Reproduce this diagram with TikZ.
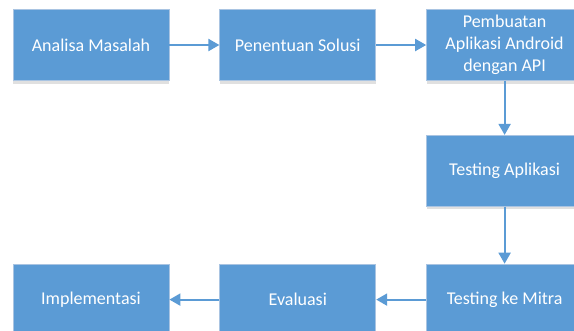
\documentclass[tikz,border=0pt]{standalone}
\usepackage{fontspec}
\setmainfont{Carlito}
\usetikzlibrary{positioning,arrows.meta,shadows}

\definecolor{stepblue}{HTML}{5B9BD5}
\definecolor{stepedge}{HTML}{A9C4E2}

\begin{document}
\begin{tikzpicture}[x=1pt,y=1pt,
node distance=50pt and 50pt,
stepbox/.style={draw=stepedge,line width=0.8pt,fill=stepblue,rectangle,
    minimum width=156pt,minimum height=71pt,text=white,align=center,
    font=\fontsize{18}{22}\selectfont,inner sep=0pt,
    drop shadow={shadow xshift=0pt,shadow yshift=-3pt,opacity=0.12,fill=black}},
flow/.style={draw=stepblue,line width=2pt,-{Triangle[length=11pt,width=12pt]}}]
\useasboundingbox (0,0) rectangle (574,-330);
\node (analisa) [stepbox] at (91,-45) {Analisa Masalah};
\node (solusi) [stepbox,right=50pt of analisa] {Penentuan Solusi};
\node (pembuatan) [stepbox,right=50pt of solusi] {Pembuatan\\Aplikasi Android\\dengan API};
\node (testing) [stepbox,below=54pt of pembuatan] {Testing Aplikasi};
\node (mitra) [stepbox,below=57pt of testing] {Testing ke Mitra};
\node (evaluasi) [stepbox,left=50pt of mitra] {Evaluasi};
\node (implementasi) [stepbox,left=50pt of evaluasi] {Implementasi};
\draw [flow] (analisa) -- (solusi);
\draw [flow] (solusi) -- (pembuatan);
\draw [flow] (pembuatan) -- (testing);
\draw [flow] (testing) -- (mitra);
\draw [flow] (mitra) -- (evaluasi);
\draw [flow] (evaluasi) -- (implementasi);
\end{tikzpicture}
\end{document}
